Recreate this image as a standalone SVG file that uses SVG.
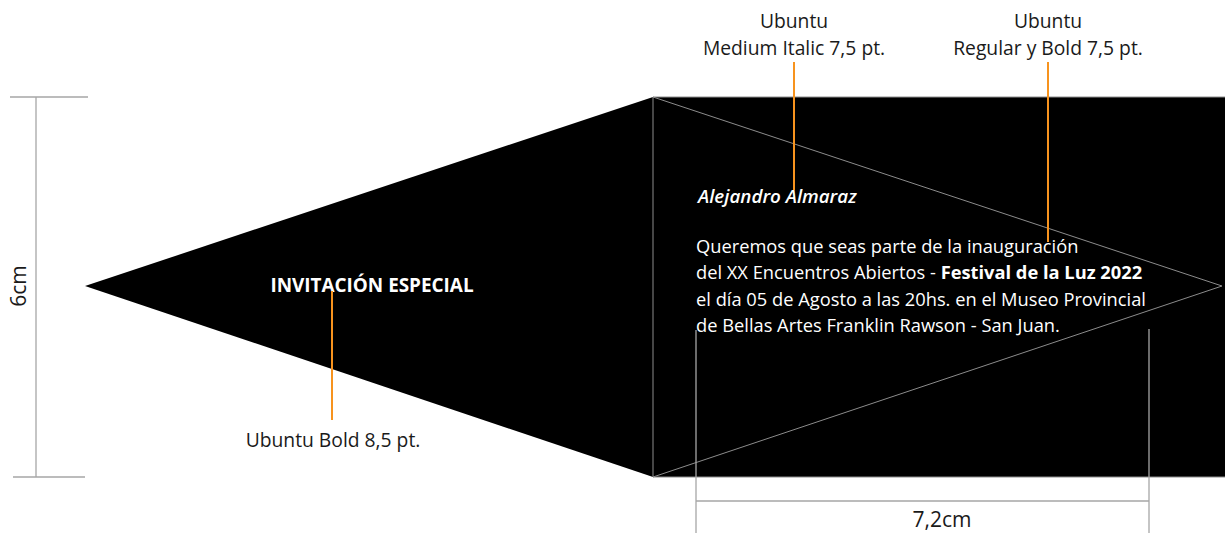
<svg xmlns="http://www.w3.org/2000/svg" width="1225" height="533" viewBox="0 0 1225 533">
<style>
.dim{stroke:#a6a6a6;stroke-width:1.3;fill:none}
.thin{stroke:#8c8c8c;stroke-width:1;fill:none}
.lead{stroke:#f7931e;stroke-width:2;fill:none}
.lbl{font-family:"Open Sans","Liberation Sans",sans-serif;font-size:19.3px;fill:#1a1a1a}
.big{font-size:21px}
.wt{font-family:"Open Sans","Liberation Sans",sans-serif;font-size:18.3px;fill:#ffffff}
.ttl{font-size:18.9px;font-weight:bold}
.it{font-size:18.8px;font-style:italic;font-weight:600}
</style>
<rect width="1225" height="533" fill="#ffffff"/>
<g id="shape">
<polygon points="85,286 653,97 1225,97 1225,477 653,477" fill="#000000"/>
<line class="thin" x1="653" y1="97" x2="1225" y2="97"/>
<line class="thin" x1="653" y1="477" x2="1225" y2="477"/>
<line class="thin" x1="653" y1="97" x2="653" y2="477"/>
<polyline class="thin" points="653,97 1222,286 653,477"/>
</g>
<g id="titulo">
<text class="wt ttl" x="372" y="292" text-anchor="middle">INVITACIÓN ESPECIAL</text>
</g>
<g id="cuerpo">
<text class="wt it" x="698" y="203">Alejandro Almaraz</text>
<text class="wt" x="696" y="253">Queremos que seas parte de la inauguración</text>
<text class="wt" x="696" y="279">del XX Encuentros Abiertos - <tspan font-weight="bold">Festival de la Luz 2022</tspan></text>
<text class="wt" x="696" y="306">el día 05 de Agosto a las 20hs. en el Museo Provincial</text>
<text class="wt" x="696" y="332">de Bellas Artes Franklin Rawson - San Juan.</text>
</g>
<g id="label-bold">
<text class="lbl" x="333" y="447" text-anchor="middle">Ubuntu Bold 8,5 pt.</text>
</g>
<g id="label-italic">
<text class="lbl" x="794" y="28" text-anchor="middle">Ubuntu</text>
<text class="lbl" x="794" y="55" text-anchor="middle">Medium Italic 7,5 pt.</text>
</g>
<g id="label-regular">
<text class="lbl" x="1048" y="28" text-anchor="middle">Ubuntu</text>
<text class="lbl" x="1048" y="55" text-anchor="middle">Regular y Bold 7,5 pt.</text>
</g>
<g id="connectors">
<line class="lead" x1="332" y1="291" x2="332" y2="420"/>
<line class="lead" x1="794" y1="62" x2="794" y2="190"/>
<line class="lead" x1="1048" y1="62" x2="1048" y2="242"/>
</g>
<g id="dim-height">
<line class="dim" x1="10" y1="97" x2="88" y2="97"/>
<line class="dim" x1="13" y1="477" x2="85" y2="477"/>
<line class="dim" x1="36" y1="97" x2="36" y2="477"/>
<text class="lbl big" transform="translate(26,286) rotate(-90)" text-anchor="middle">6cm</text>
</g>
<g id="dim-width">
<line class="dim" x1="696" y1="330" x2="696" y2="533"/>
<line class="dim" x1="1149" y1="329" x2="1149" y2="533"/>
<line class="dim" x1="696" y1="501" x2="1149" y2="501"/>
<text class="lbl big" x="942" y="527" text-anchor="middle">7,2cm</text>
</g>
</svg>
